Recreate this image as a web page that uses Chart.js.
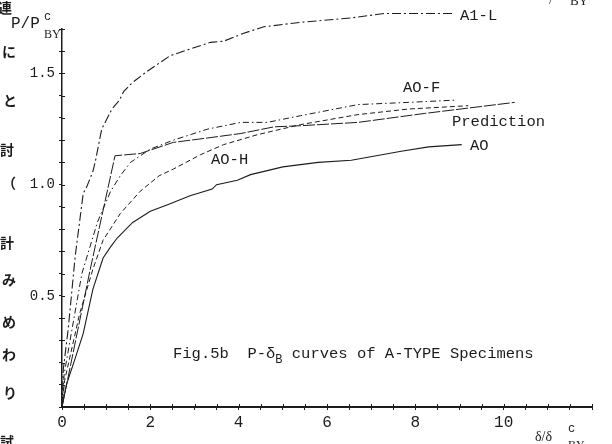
<!DOCTYPE html>
<html>
<head>
<meta charset="utf-8">
<script src="https://cdn.jsdelivr.net/npm/chart.js@4.4.1/dist/chart.umd.min.js"></script>
<style>
  html, body { margin: 0; padding: 0; background: #fff; }
  #wrap { width: 612px; height: 444px; position: relative; }
</style>
</head>
<body>
<div id="wrap"><canvas id="c" width="612" height="444"></canvas></div>
<script>
// ---- data ----
const a1lX = [0, 0.03, 0.14, 0.3, 0.48, 0.56, 0.7, 0.75, 0.9, 1.13, 1.3, 1.4, 1.6, 1.93, 2.45, 2.9, 3.36, 3.66, 4.1, 4.57, 5.4, 6.55, 7.3, 8.9];
const a1lY = [0, 0.17, 0.35, 0.68, 0.96, 0.99, 1.06, 1.10, 1.25, 1.34, 1.38, 1.42, 1.46, 1.51, 1.58, 1.61, 1.64, 1.645, 1.68, 1.71, 1.73, 1.75, 1.77, 1.77];

const aoX = [0, 0.1, 0.3, 0.48, 0.7, 0.93, 1.1, 1.25, 1.6, 2.0, 2.39, 2.9, 3.4, 3.5, 3.97, 4.27, 5.0, 5.8, 6.55, 7.68, 8.3, 9.05];
const aoY = [0, 0.1, 0.22, 0.33, 0.53, 0.67, 0.72, 0.76, 0.83, 0.88, 0.91, 0.95, 0.98, 1.0, 1.02, 1.045, 1.08, 1.10, 1.11, 1.15, 1.17, 1.18];

const aofX = [0, 0.05, 0.45, 0.8, 1.1, 1.32, 1.55, 2.0, 2.52, 3.3, 4.05, 4.65, 5.4, 6.7, 7.84, 8.9];
const aofY = [0, 0.15, 0.6, 0.83, 0.97, 1.04, 1.10, 1.16, 1.20, 1.25, 1.28, 1.28, 1.31, 1.36, 1.37, 1.38];

const aohX = [0, 0.06, 0.4, 0.7, 0.93, 1.32, 1.77, 2.2, 2.52, 3.14, 3.66, 4.43, 5.4, 6.7, 7.84, 9.2];
const aohY = [0, 0.12, 0.42, 0.62, 0.75, 0.87, 0.97, 1.04, 1.07, 1.135, 1.18, 1.225, 1.27, 1.315, 1.34, 1.355];

const predX = [0, 0.64, 1.2, 1.77, 2.52, 3.3, 4.05, 4.8, 5.4, 6.7, 8.2, 10.25];
const predY = [0, 0.62, 1.13, 1.14, 1.19, 1.21, 1.23, 1.26, 1.265, 1.28, 1.32, 1.37];

const seriesNames = ["A1-L", "AO", "AO-F", "AO-H", "Prediction"];
const xTickLabels = ["0", "2", "4", "6", "8", "10"];
const yTickLabels = ["0.5", "1.0", "1.5"];
const titleParts = ["Fig.5b  P-\u03b4", "B", " curves of A-TYPE Specimens"];
const marginChars = ["連", "に", "と", "討", "（", "計", "み", "め", "わ", "り", "試"];

// ---- build ----
const pts = (xs, ys) => xs.map((x, i) => ({ x: x, y: ys[i] }));
const MONO = "'Liberation Mono', 'DejaVu Sans Mono', monospace";
const INK = '#1c1c1c';

function ds(label, xs, ys, dash, w) {
  return {
    label: label, data: pts(xs, ys), showLine: true, pointRadius: 0,
    borderColor: INK, borderWidth: w || 1, borderDash: dash, tension: 0,
    clip: false, fill: false
  };
}

const near = (v, list) => list.some(s => Math.abs(v - parseFloat(s)) < 1e-6);

const textPlugin = {
  id: 'texts',
  afterDraw(chart) {
    const ctx = chart.ctx;
    const xs = chart.scales.x, ys = chart.scales.y;
    ctx.save();
    ctx.fillStyle = INK;
    ctx.strokeStyle = INK;
    // inner halves of ticks (ticks cross the axes in the figure)
    ctx.lineWidth = 1;
    ys.ticks.forEach(t => {
      const py = Math.round(ys.getPixelForValue(t.value)) + 0.5;
      ctx.beginPath(); ctx.moveTo(xs.left, py); ctx.lineTo(xs.left + 3, py); ctx.stroke();
    });
    xs.ticks.forEach(t => {
      const px = Math.round(xs.getPixelForValue(t.value)) + 0.5;
      ctx.beginPath(); ctx.moveTo(px, ys.bottom); ctx.lineTo(px, ys.bottom - 3); ctx.stroke();
    });

    // series labels
    ctx.font = "15.5px " + MONO;
    ctx.textBaseline = 'middle';
    ctx.textAlign = 'left';
    ctx.fillText(seriesNames[0], 460, 16);
    ctx.fillText(seriesNames[2], 403, 88);
    ctx.fillText(seriesNames[4], 452, 122);
    ctx.fillText(seriesNames[1], 470, 146);
    ctx.fillText(seriesNames[3], 211, 160);

    // title with subscript
    ctx.textBaseline = 'alphabetic';
    let x = 173;
    const by = 358;
    ctx.font = "15.5px " + MONO;
    ctx.fillText(titleParts[0], x, by);
    x += ctx.measureText(titleParts[0]).width;
    ctx.font = "12px " + MONO;
    ctx.fillText(titleParts[1], x, by + 5);
    x += ctx.measureText(titleParts[1]).width;
    ctx.font = "15.5px " + MONO;
    ctx.fillText(titleParts[2], x, by);

    // y axis title P/P^c_BY
    ctx.font = "16px " + MONO;
    ctx.fillText("P/P", 11, 28);
    ctx.font = "12px " + MONO;
    ctx.fillText("c", 44, 20);
    ctx.font = "12px 'Liberation Serif', serif";
    ctx.fillText("BY", 44, 38);

    // x axis title δ/δ^c_BY
    ctx.font = "14px 'Liberation Serif', serif";
    ctx.fillText("\u03b4/\u03b4", 535, 441);
    ctx.font = "12px " + MONO;
    ctx.fillText("c", 568, 432);
    ctx.font = "12px 'Liberation Serif', serif";
    ctx.fillText("BY", 568, 449);

    // fragment of neighbouring text at the top right
    ctx.font = "13px 'Liberation Serif', serif";
    ctx.fillText("/", 549, 4);
    ctx.fillText("BY", 570, 5);

    // characters of the neighbouring page on the left margin
    ctx.font = "bold 14px 'Noto Sans CJK JP'";
    ctx.textBaseline = 'middle';
    const cy = [8, 52, 101, 150, 183, 243, 280, 322, 355, 393, 442];
    const cx = [-2, 2, 3, 0, 2, 0, 2, 2, 2, 3, 0];
    marginChars.forEach((ch, i) => ctx.fillText(ch, cx[i], cy[i]));
    ctx.restore();
  }
};

new Chart(document.getElementById('c'), {
  type: 'scatter',
  data: {
    datasets: [
      ds(seriesNames[0], a1lX, a1lY, [9, 3, 2, 3], 1.1),
      ds(seriesNames[1], aoX, aoY, [], 1.1),
      ds(seriesNames[2], aofX, aofY, [6, 3, 1.5, 3], 1),
      ds(seriesNames[3], aohX, aohY, [5, 3], 1),
      ds(seriesNames[4], predX, predY, [12, 2], 1)
    ]
  },
  options: {
    responsive: false,
    animation: false,
    devicePixelRatio: 1,
    layout: { padding: { left: 0, right: 20, top: 29, bottom: 0 } },
    plugins: { legend: { display: false }, tooltip: { enabled: false }, title: { display: false } },
    scales: {
      x: {
        type: 'linear', min: 0, max: 12, position: 'bottom',
        border: { display: true, color: INK, width: 2 },
        grid: { display: true, drawOnChartArea: false, drawTicks: true, tickLength: 3, color: INK, lineWidth: 1 },
        ticks: {
          stepSize: 0.5, autoSkip: false, maxRotation: 0, padding: 3, color: INK,
          font: { family: MONO, size: 16 },
          callback: v => (near(v, xTickLabels) ? String(Math.round(v)) : '')
        },
        afterFit: s => { s.height = 37; }
      },
      y: {
        type: 'linear', min: 0, max: 1.7,
        border: { display: true, color: INK, width: 1.5 },
        grid: { display: true, drawOnChartArea: false, drawTicks: true, tickLength: 3, color: INK, lineWidth: 1 },
        ticks: {
          stepSize: 0.1, autoSkip: false, padding: 4, color: INK,
          font: { family: MONO, size: 14 },
          callback: v => (near(v, yTickLabels) ? Number(v).toFixed(1) : '')
        },
        afterFit: s => { s.width = 62; }
      }
    }
  },
  plugins: [textPlugin]
});
</script>
</body>
</html>
